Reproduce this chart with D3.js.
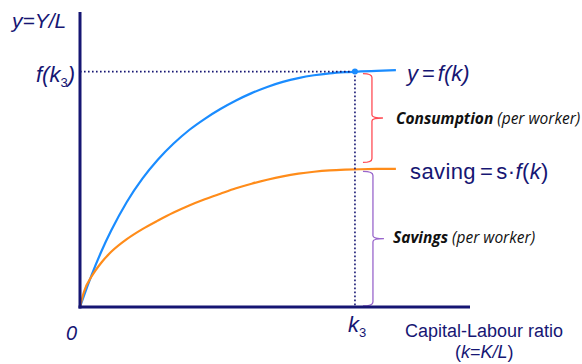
<!DOCTYPE html>
<html>
<head>
<meta charset="utf-8">
<script src="https://cdn.jsdelivr.net/npm/d3@7"></script>
<style>
  html, body { margin: 0; padding: 0; background: #fff; }
  svg { display: block; }
</style>
</head>
<body>
<svg id="chart" width="582" height="364"></svg>
<script>
// ---- data (arbitrary units) ----
const kValues      = [0, 1, 3, 5.5, 8, 12, 16, 20, 24, 28, 32, 36, 40, 44, 48, 52, 56, 60, 64, 68, 72, 76, 81];
const outputValues = [0, 3.8, 10.9, 18.9, 25.9, 35.6, 43.5, 50.0, 55.4, 60.0, 63.8, 67.1, 70.0, 72.5, 74.6, 76.3, 77.6, 78.55, 79.2, 79.6, 79.85, 80.05, 80.3];
const savingValues = [0, 5.1, 10.4, 15.1, 18.7, 23.0, 26.4, 29.3, 32.0, 34.4, 36.5, 38.4, 40.25, 41.8, 43.15, 44.3, 45.2, 45.85, 46.3, 46.55, 46.7, 46.8, 46.85];
const k3 = 70.5;
const fk3 = 79.8;
const sk3 = 46.65;
const xDomain = [0, 100];
const yDomain = [0, 100];

const navy = "#161673";
const blue = "#1a8cff";
const orange = "#ff8c1a";
const red = "#ff4d55";
const purple = "#9966cc";

const svg = d3.select("#chart");
const x = d3.scaleLinear().domain(xDomain).range([80, 470]);
const y = d3.scaleLinear().domain(yDomain).range([307, 12]);

// curves
const line = d3.line().curve(d3.curveMonotoneX);
svg.append("path")
  .attr("d", line(kValues.map((k, i) => [x(k), y(outputValues[i])])))
  .attr("fill", "none").attr("stroke", blue).attr("stroke-width", 2.2);
svg.append("path")
  .attr("d", line(kValues.map((k, i) => [x(k), y(savingValues[i])])))
  .attr("fill", "none").attr("stroke", orange).attr("stroke-width", 2.2);

// dotted guides
svg.append("line")
  .attr("x1", x(0)).attr("x2", x(k3)).attr("y1", y(fk3)).attr("y2", y(fk3))
  .attr("stroke", navy).attr("stroke-width", 1.6).attr("stroke-dasharray", "1.6,2.4");
svg.append("line")
  .attr("x1", x(k3)).attr("x2", x(k3)).attr("y1", y(fk3)).attr("y2", y(0))
  .attr("stroke", navy).attr("stroke-width", 1.6).attr("stroke-dasharray", "1.6,2.4");
svg.append("circle").attr("cx", x(k3)).attr("cy", y(fk3)).attr("r", 3).attr("fill", blue);

// braces
function brace(xl, y1, y2, xm, xt) {
  const ym = (y1 + y2) / 2;
  return `M${xl},${y1} Q${xm},${y1} ${xm},${y1 + 4} L${xm},${ym - 3} Q${xm},${ym} ${xt},${ym}` +
         ` Q${xm},${ym} ${xm},${ym + 3} L${xm},${y2 - 4} Q${xm},${y2} ${xl},${y2}`;
}
const bx = x(k3);
svg.append("path").attr("d", brace(bx + 8, y(fk3) + 2, y(sk3) - 7, bx + 17, bx + 28))
  .attr("fill", "none").attr("stroke", red).attr("stroke-width", 1.3);
svg.append("path").attr("d", brace(bx + 8, y(sk3) + 2, y(0) - 1, bx + 18, bx + 29))
  .attr("fill", "none").attr("stroke", purple).attr("stroke-width", 1.3);

// axes
svg.append("line").attr("x1", x(0)).attr("x2", x(0)).attr("y1", y(100)).attr("y2", y(0) + 1.5)
  .attr("stroke", navy).attr("stroke-width", 3);
svg.append("line").attr("x1", x(0) - 1.5).attr("x2", x(100)).attr("y1", y(0)).attr("y2", y(0))
  .attr("stroke", navy).attr("stroke-width", 3);

// text
const sans = "'Liberation Sans', Arial, sans-serif";
const cal = "'Open Sans', Lato, sans-serif";

svg.append("text").attr("x", 12).attr("y", 28).attr("font-family", sans).attr("font-size", 21)
  .attr("font-style", "italic").attr("fill", navy).text("y=Y/L");

const fk = svg.append("text").attr("x", 36).attr("y", 82).attr("font-family", sans)
  .attr("font-size", 22).attr("font-style", "italic").attr("fill", navy);
fk.append("tspan").text("f(k");
fk.append("tspan").attr("font-size", 13).attr("dy", 5).attr("font-style", "normal").text("3");
fk.append("tspan").attr("dy", -5).text(")");

const yf = svg.append("text").attr("x", 407).attr("y", 81).attr("font-family", sans)
  .attr("font-size", 22).attr("font-style", "italic").attr("fill", navy);
yf.append("tspan").text("y");
yf.append("tspan").attr("font-style", "normal").attr("dx", 4).text("=");
yf.append("tspan").attr("dx", 3).text("f(k)");

const sv = svg.append("text").attr("x", 410).attr("y", 179).attr("font-family", sans)
  .attr("font-size", 22).attr("fill", navy).attr("letter-spacing", 0.4);
sv.append("tspan").text("saving");
sv.append("tspan").attr("dx", 4).text("=");
sv.append("tspan").attr("dx", 3).text("s·");
sv.append("tspan").attr("font-style", "italic").text("f");
sv.append("tspan").text("(");
sv.append("tspan").attr("font-style", "italic").text("k");
sv.append("tspan").text(")");

const cons = svg.append("text").attr("x", 396).attr("y", 124).attr("font-family", cal)
  .attr("font-size", 15.5).attr("font-style", "italic").attr("fill", "#111");
cons.append("tspan").attr("font-weight", "bold").text("Consumption");
cons.append("tspan").text(" (per worker)");

const sav = svg.append("text").attr("x", 393).attr("y", 243).attr("font-family", cal)
  .attr("font-size", 15.5).attr("font-style", "italic").attr("fill", "#111");
sav.append("tspan").attr("font-weight", "bold").text("Savings");
sav.append("tspan").text(" (per worker)");

svg.append("text").attr("x", 66).attr("y", 340).attr("font-family", sans).attr("font-size", 20)
  .attr("font-style", "italic").attr("fill", navy).text("0");

const kt = svg.append("text").attr("x", x(k3) - 7).attr("y", 332).attr("font-family", sans)
  .attr("font-size", 22).attr("font-style", "italic").attr("fill", navy);
kt.append("tspan").text("k");
kt.append("tspan").attr("font-size", 13).attr("dy", 5).attr("font-style", "normal").text("3");

svg.append("text").attr("x", 405).attr("y", 337).attr("font-family", sans).attr("font-size", 18)
  .attr("fill", navy).text("Capital-Labour ratio");
const kk = svg.append("text").attr("x", 455).attr("y", 358).attr("font-family", sans)
  .attr("font-size", 18).attr("fill", navy);
kk.append("tspan").text("(");
kk.append("tspan").attr("font-style", "italic").text("k");
kk.append("tspan").text("=");
kk.append("tspan").attr("font-style", "italic").text("K/L");
kk.append("tspan").text(")");
</script>
</body>
</html>
